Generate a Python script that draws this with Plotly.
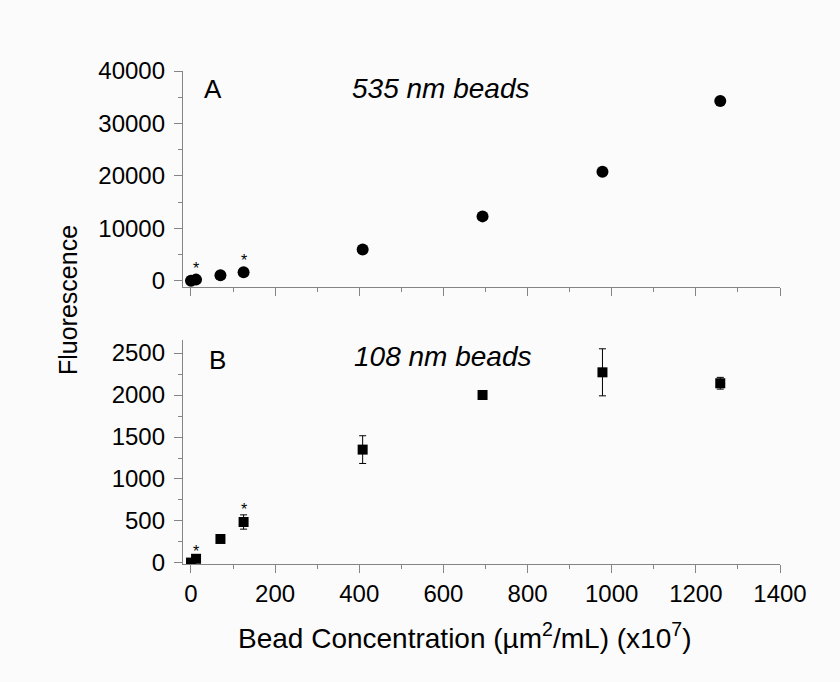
import plotly.graph_objects as go
from plotly.subplots import make_subplots

# Bead concentration (µm²/mL, x10^7)
conc = [0, 12, 70, 125, 408, 693, 978, 1258]

# Panel A: 535 nm beads
fluor_535 = [50, 250, 1100, 1650, 6000, 12300, 20800, 34300]

# Panel B: 108 nm beads
fluor_108 = [5, 50, 286, 488, 1350, 2000, 2270, 2140]
err_108 = [10, 20, 25, 85, 165, 40, 280, 70]

# points flagged with an asterisk
starred = [1, 3]

x_ticks = [0, 200, 400, 600, 800, 1000, 1200, 1400]
y_ticks_a = [0, 10000, 20000, 30000, 40000]
y_ticks_b = [0, 500, 1000, 1500, 2000, 2500]

FONT = "Liberation Sans, Arial, sans-serif"
AXIS_GREY = "#858585"
BG = "#fbfbfb"

fig = make_subplots(rows=2, cols=1, shared_xaxes=False)

fig.add_trace(go.Scatter(
    x=conc, y=fluor_535, mode="markers",
    marker=dict(symbol="circle", size=12, color="black"),
    showlegend=False), row=1, col=1)

fig.add_trace(go.Scatter(
    x=conc, y=fluor_108, mode="markers",
    marker=dict(symbol="square", size=10, color="black"),
    error_y=dict(type="data", array=err_108, color="black",
                 thickness=1, width=3.5),
    showlegend=False), row=2, col=1)

# asterisks above flagged points
for i in starred:
    fig.add_annotation(x=conc[i], y=fluor_535[i], xref="x", yref="y",
                       text="*", showarrow=False, yanchor="bottom",
                       yshift=1, font=dict(family=FONT, size=16, color="black"))
    fig.add_annotation(x=conc[i], y=fluor_108[i] + err_108[i], xref="x2", yref="y2",
                       text="*", showarrow=False, yanchor="bottom",
                       yshift=-5, font=dict(family=FONT, size=16, color="black"))

common_axis = dict(
    showline=True, linecolor=AXIS_GREY, linewidth=1.3,
    ticks="outside", ticklen=8, tickwidth=1.3, tickcolor=AXIS_GREY,
    showgrid=False, zeroline=False, mirror=False,
    tickfont=dict(family=FONT, size=24, color="black"),
)

fig.update_xaxes(range=[-19, 1400], tickvals=x_ticks,
                 ticktext=[str(v) for v in x_ticks],
                 minor=dict(ticks="outside", ticklen=4, tickcolor=AXIS_GREY,
                            tickwidth=1.3, dtick=100, tick0=0, showgrid=False),
                 **common_axis)
fig.update_xaxes(showticklabels=False, row=1, col=1)
fig.update_xaxes(ticklabelstandoff=0, row=2, col=1)

fig.update_yaxes(**common_axis)
fig.update_yaxes(range=[-1143, 40000], tickvals=y_ticks_a,
                 ticktext=[str(v) for v in y_ticks_a],
                 minor=dict(ticks="outside", ticklen=4, tickcolor=AXIS_GREY,
                            tickwidth=1.3, dtick=5000, tick0=0, showgrid=False),
                 ticklabelstandoff=4, row=1, col=1)
fig.update_yaxes(range=[-12, 2655], tickvals=y_ticks_b,
                 ticktext=[str(v) for v in y_ticks_b],
                 minor=dict(ticks="outside", ticklen=4, tickcolor=AXIS_GREY,
                            tickwidth=1.3, dtick=250, tick0=0, showgrid=False),
                 ticklabelstandoff=4, row=2, col=1)

fig.update_layout(
    xaxis=dict(domain=[0, 1], anchor="y"),
    yaxis=dict(domain=[0.562, 1.0], anchor="x"),
    xaxis2=dict(domain=[0, 1], anchor="y2"),
    yaxis2=dict(domain=[0.0, 0.4544], anchor="x2"),
)


def label(x, y, text, size=26, angle=0):
    fig.add_annotation(x=x, y=y, xref="paper", yref="paper", text=text,
                       textangle=angle, showarrow=False,
                       xanchor="center", yanchor="middle",
                       font=dict(family=FONT, size=size, color="black"))


label(0.0503, 0.9635, "A")
label(0.4305, 0.9655, "<i>535 nm beads</i>", size=28)
label(0.057, 0.4138, "B")
label(0.434, 0.4219, "<i>108 nm beads</i>", size=28)

# axis titles
label(-0.1926, 0.5355, "Fluorescence", size=25, angle=-90)
label(0.4707, -0.146, "Bead Concentration (µm<sup>2</sup>/mL) (x10<sup>7</sup>)", size=28)

fig.update_layout(
    width=840, height=682,
    margin=dict(l=183, r=60, t=71, b=118),
    paper_bgcolor=BG, plot_bgcolor=BG,
    font=dict(family=FONT, color="black"),
)

fig.write_html("out.html")
